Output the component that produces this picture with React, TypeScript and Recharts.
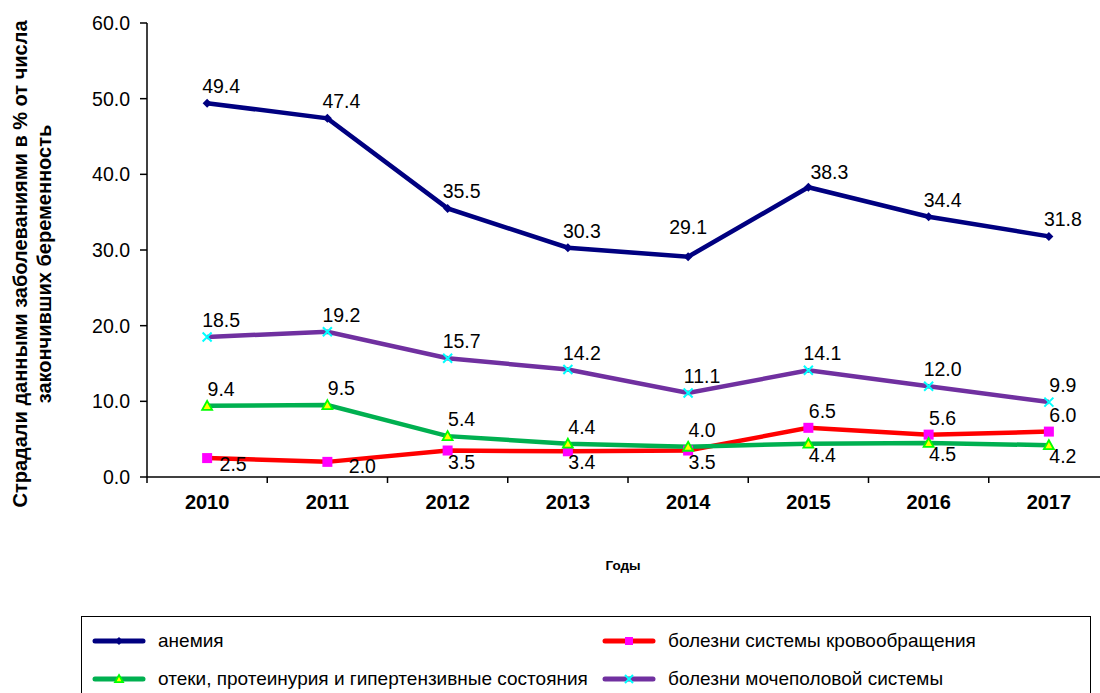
import React from "react";
import { LineChart, Line, XAxis, YAxis, LabelList } from "recharts";

const years = ["2010", "2011", "2012", "2013", "2014", "2015", "2016", "2017"];
const anemia = [49.4, 47.4, 35.5, 30.3, 29.1, 38.3, 34.4, 31.8];
const circulatory = [2.5, 2.0, 3.5, 3.4, 3.5, 6.5, 5.6, 6.0];
const edema = [9.4, 9.5, 5.4, 4.4, 4.0, 4.4, 4.5, 4.2];
const urogenital = [18.5, 19.2, 15.7, 14.2, 11.1, 14.1, 12.0, 9.9];
const yTicks = [0, 10, 20, 30, 40, 50, 60];

const names = {
  anemia: "анемия",
  circulatory: "болезни системы кровообращения",
  edema: "отеки, протеинурия и гипертензивные состояния",
  urogenital: "болезни мочеполовой системы",
};
const yTitle = ["Страдали данными заболеваниями в % от числа", "закончивших беременность"];
const xTitle = "Годы";

const data = years.map((year, i) => ({
  idx: i,
  year,
  anemia: anemia[i],
  circulatory: circulatory[i],
  edema: edema[i],
  urogenital: urogenital[i],
}));
const boundaries = [...years.map((_, i) => i - 0.5), years.length - 0.5];

const FONT = "Arial, 'Liberation Sans', sans-serif";
const COLORS = {
  anemia: "#000080",
  circulatory: "#ff0000",
  edema: "#00b050",
  urogenital: "#7030a0",
};

// a few labels were hand-moved in the original, offsets of the label centre
const labelNudge: Record<string, { dx: number; dy: number }> = {
  "anemia-4": { dx: 0, dy: -30 },
  "anemia-5": { dx: 21, dy: -15 },
  "circulatory-0": { dx: 26, dy: 6 },
  "circulatory-1": { dx: 35, dy: 4 },
};

// labels sit above the line unless the other low series is higher at that year
const makeLabel = (key: string, below: (i: number) => boolean) => (props: any) => {
  const { x, y, value, index } = props;
  const under = below(index);
  const n = labelNudge[`${key}-${index}`] || { dx: 14, dy: under ? 11 : -17 };
  return (
    <text
      key={`l-${index}`}
      x={x + n.dx}
      y={y + n.dy + 7}
      textAnchor="middle"
      fontSize={19.5}
      fontFamily={FONT}
      fill="#000"
    >
      {Number(value).toFixed(1)}
    </text>
  );
};

const Diamond = ({ cx, cy, s = 4.5 }: any) => (
  <path d={`M${cx},${cy - s}L${cx + s},${cy}L${cx},${cy + s}L${cx - s},${cy}Z`} fill={COLORS.anemia} />
);
const Square = ({ cx, cy, s = 5 }: any) => (
  <rect x={cx - s} y={cy - s} width={s * 2} height={s * 2} fill="#ff00ff" />
);
const Triangle = ({ cx, cy, s = 5 }: any) => (
  <path
    d={`M${cx},${cy - s}L${cx + s},${cy + s * 0.8}L${cx - s},${cy + s * 0.8}Z`}
    fill="#ffff00"
    stroke="#00ff00"
    strokeWidth={1.8}
  />
);
const Cross = ({ cx, cy, s = 4.5 }: any) => (
  <path
    d={`M${cx - s},${cy - s}L${cx + s},${cy + s}M${cx + s},${cy - s}L${cx - s},${cy + s}`}
    stroke="#00ffff"
    strokeWidth={2}
  />
);

const dotOf = (Shape: any) => (p: any) => <Shape key={`d-${p.index}`} cx={p.cx} cy={p.cy} />;

const legendItems = [
  { key: "anemia", Shape: Diamond },
  { key: "circulatory", Shape: Square },
  { key: "edema", Shape: Triangle },
  { key: "urogenital", Shape: Cross },
];

function LegendSymbol({ color, Shape }: any) {
  return (
    <svg width={54} height={14} style={{ display: "block" }}>
      <line x1={3} y1={7} x2={51} y2={7} stroke={color} strokeWidth={5} strokeLinecap="round" />
      <Shape cx={27} cy={7} s={4} />
    </svg>
  );
}

export default function App() {
  return (
    <div
      style={{
        position: "fixed",
        left: 0,
        top: 0,
        width: 1100,
        height: 693,
        overflow: "hidden",
        background: "#fff",
        fontFamily: FONT,
      }}
    >
      <LineChart
        width={1110}
        height={693}
        data={data}
        margin={{ top: 23, right: 1, left: 87, bottom: 185 }}
      >
        <XAxis
          xAxisId="grid"
          dataKey="idx"
          type="number"
          domain={[-0.5, years.length - 0.5]}
          ticks={boundaries}
          height={1}
          tickSize={6}
          tick={() => <g />}
          axisLine={{ stroke: "#000", strokeWidth: 1.5 }}
          tickLine={{ stroke: "#000", strokeWidth: 1.5 }}
        />
        <XAxis
          xAxisId="year"
          dataKey="idx"
          type="number"
          domain={[-0.5, years.length - 0.5]}
          ticks={years.map((_, i) => i)}
          tickFormatter={(v) => years[v]}
          height={30}
          axisLine={false}
          tickLine={false}
          tickSize={6}
          tickMargin={11}
          tick={{ fontSize: 20, fontWeight: "bold", fill: "#000", fontFamily: FONT }}
        />
        <YAxis
          domain={[0, 60]}
          ticks={yTicks}
          width={60}
          tickFormatter={(v) => Number(v).toFixed(1)}
          tickSize={7}
          tickMargin={10}
          tick={{ fontSize: 19.5, fill: "#000", fontFamily: FONT }}
          axisLine={{ stroke: "#000", strokeWidth: 1.5 }}
          tickLine={{ stroke: "#000", strokeWidth: 1.5 }}
        />
        <Line
          xAxisId="year"
          dataKey="anemia"
          stroke={COLORS.anemia}
          strokeWidth={4.5}
          dot={dotOf(Diamond)}
          activeDot={false}
          isAnimationActive={false}
        >
          <LabelList dataKey="anemia" content={makeLabel("anemia", () => false)} />
        </Line>
        <Line
          xAxisId="year"
          dataKey="urogenital"
          stroke={COLORS.urogenital}
          strokeWidth={4.5}
          dot={dotOf(Cross)}
          activeDot={false}
          isAnimationActive={false}
        >
          <LabelList dataKey="urogenital" content={makeLabel("urogenital", () => false)} />
        </Line>
        <Line
          xAxisId="year"
          dataKey="circulatory"
          stroke={COLORS.circulatory}
          strokeWidth={4.5}
          dot={dotOf(Square)}
          activeDot={false}
          isAnimationActive={false}
        >
          <LabelList
            dataKey="circulatory"
            content={makeLabel("circulatory", (i) => circulatory[i] < edema[i])}
          />
        </Line>
        <Line
          xAxisId="year"
          dataKey="edema"
          stroke={COLORS.edema}
          strokeWidth={4.5}
          dot={dotOf(Triangle)}
          activeDot={false}
          isAnimationActive={false}
        >
          <LabelList dataKey="edema" content={makeLabel("edema", (i) => edema[i] < circulatory[i])} />
        </Line>
      </LineChart>

      <svg
        width={1100}
        height={693}
        style={{ position: "absolute", left: 0, top: 0, pointerEvents: "none" }}
      >
        <text
          transform="translate(27,264) rotate(-90)"
          textAnchor="middle"
          fontSize={20}
          fontWeight="bold"
          fontFamily={FONT}
          fill="#000"
        >
          {yTitle[0]}
        </text>
        <text
          transform="translate(51,264) rotate(-90)"
          textAnchor="middle"
          fontSize={20}
          fontWeight="bold"
          fontFamily={FONT}
          fill="#000"
        >
          {yTitle[1]}
        </text>
        <text
          x={623}
          y={570}
          textAnchor="middle"
          fontSize={13.5}
          fontWeight="bold"
          fontFamily={FONT}
          fill="#000"
        >
          {xTitle}
        </text>
      </svg>

      <div
        style={{
          position: "absolute",
          left: 81,
          top: 616,
          width: 1010,
          height: 100,
          border: "1.5px solid #000",
          boxSizing: "border-box",
        }}
      >
        {legendItems.map((it, i) => {
          const col = i % 2;
          const row = Math.floor(i / 2);
          return (
            <div
              key={it.key}
              style={{
                position: "absolute",
                left: col === 0 ? 10 : 520,
                top: row === 0 ? 13 : 51,
                display: "flex",
                alignItems: "center",
                gap: 12,
                fontSize: 19,
                color: "#000",
                whiteSpace: "nowrap",
              }}
            >
              <LegendSymbol color={(COLORS as any)[it.key]} Shape={it.Shape} />
              <span>{(names as any)[it.key]}</span>
            </div>
          );
        })}
      </div>
    </div>
  );
}
